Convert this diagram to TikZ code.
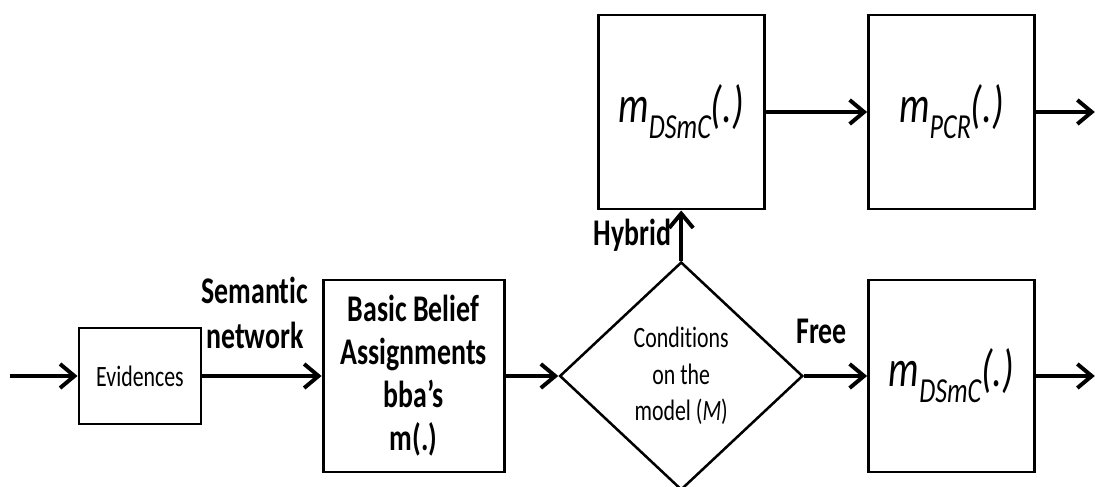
\documentclass[tikz,border=0pt]{standalone}
\usepackage{fontspec}
\setmainfont{Carlito}[FakeStretch=0.74, Ligatures={TeX,NoCommon}]
\usetikzlibrary{arrows.meta, shapes.geometric}
\tikzstyle{block} = [draw=black, line width=2.1pt, inner sep=0, align=center]
\tikzstyle{mbox} = [block, minimum width=4.15cm, minimum height=4.85cm]
\tikzstyle{decision} = [diamond, draw=black, line width=1.8pt,
    minimum width=6.08cm, minimum height=5.7cm, inner sep=0,
    align=center, font=\fontsize{21}{26}\selectfont]
\tikzstyle{arr} = [line width=2.8pt, -{Straight Barb[length=0.36cm, width=0.6cm]}]
\tikzstyle{lbl} = [font=\fontsize{26.8}{32}\selectfont\bfseries, align=center, inner sep=0]
\newcommand{\mfun}[1]{\textit{\fontsize{37}{40}\selectfont m\raisebox{-11.4pt}{\fontsize{25}{25}\selectfont #1}(.)}}
\begin{document}
\begin{tikzpicture}
\useasboundingbox (0,0) rectangle (27.375,12.15);

    % input side
    \node[block, minimum width=3.05cm, minimum height=2.4cm,
        font=\fontsize{21}{24}\selectfont] (ev) at (3.5,2.75) {Evidences};
    \node[block, minimum width=4.525cm, minimum height=4.8cm,
        font=\fontsize{26.8}{30.6}\selectfont\bfseries] (bba) at (10.34,2.75)
        {Basic Belief\\Assignments\\bba's\\m(.)};

    % model test
    \node[decision] (cond) at (17.03,2.75) {Conditions\\on the\\model (\textit{M})};

    % combination rules
    \node[mbox] (dsmc1) at (17.03,9.35) {\mfun{DSmC}};
    \node[mbox] (pcr) at (23.79,9.35) {\mfun{PCR}};
    \node[mbox, minimum height=4.8cm] (dsmc2) at (23.79,2.75) {\mfun{DSmC}};

\coordinate (in) at (0.25,2.75);
\coordinate (out1) at (27.37,9.35);
\coordinate (out2) at (27.37,2.75);

\draw[arr] (in) -- (ev.west);
\draw[arr] (ev.east) -- node[lbl, above=0.62cm, xshift=-0.18cm] {Semantic\\network} (bba.west);
\draw[arr] (bba.east) -- (cond.west);
\draw[arr] (cond.north) -- node[lbl, left=0.2cm] {Hybrid} (dsmc1.south);
\draw[arr] (cond.east) -- node[lbl, above=0.75cm, xshift=-0.35cm] {Free} (dsmc2.west);
\draw[arr] (dsmc1.east) -- (pcr.west);
\draw[arr] (pcr.east) -- (out1);
\draw[arr] (dsmc2.east) -- (out2);

\end{tikzpicture}
\end{document}
